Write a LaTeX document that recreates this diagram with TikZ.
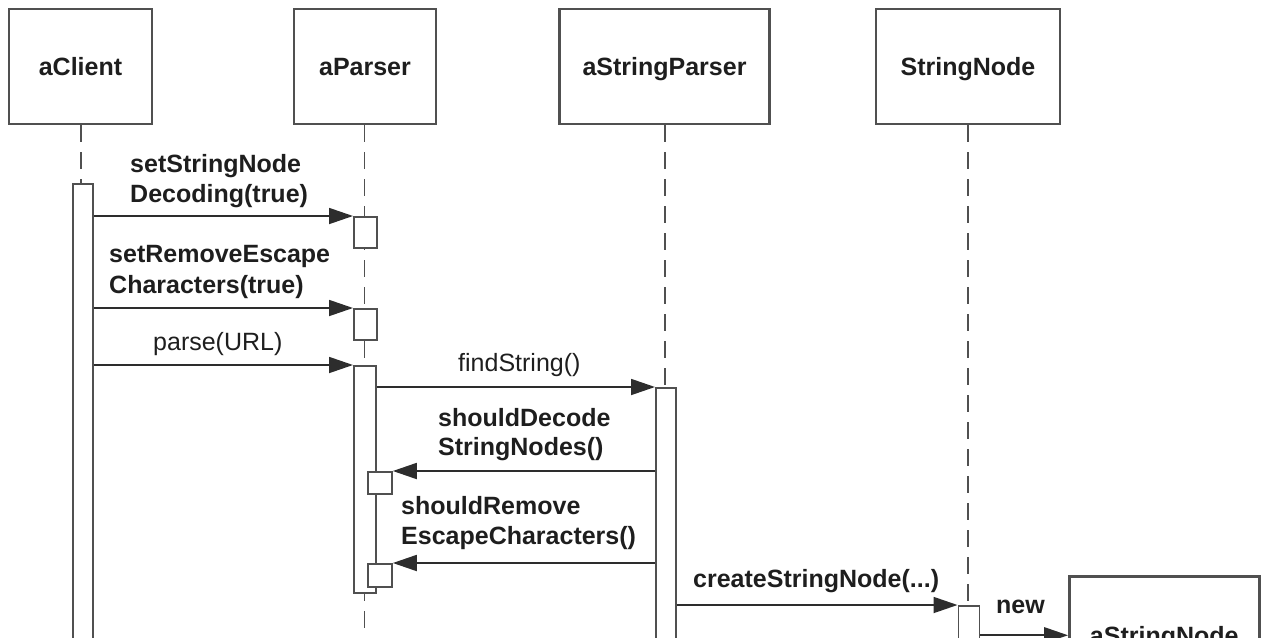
\documentclass[tikz,border=0pt]{standalone}
\usepackage{fontspec}
\setmainfont{Liberation Sans}
\usetikzlibrary{arrows.meta}
\definecolor{ln}{HTML}{505050}
\definecolor{tx}{HTML}{1E1E1E}
\begin{document}
\begin{tikzpicture}[x=1pt,y=-1pt,
  head/.style={draw=ln, line width=2.5pt, fill=white, minimum height=115pt, inner sep=0pt,
    text height=18.5pt, text depth=0pt,
    font=\bfseries\fontsize{25}{30}\selectfont, text=tx},
  life/.style={draw=ln, line width=1.8pt, dash pattern=on 17pt off 10pt},
  bar/.style={draw=ln, line width=1.8pt, fill=white, inner sep=0pt, anchor=north west},
  msg/.style={draw=tx!70!ln, line width=1.8pt, -{Triangle[length=24pt,width=16pt]}},
  lbl/.style={font=\bfseries\fontsize{25}{30}\selectfont, text=tx, anchor=base west, inner sep=0pt},
  nlbl/.style={font=\fontsize{25}{30}\selectfont, text=tx, anchor=base west, inner sep=0pt},
  ]
\useasboundingbox (0,0) rectangle (1263,637);

% heads
\node[head, minimum width=143pt] (client) at (80.5,66.5) {aClient};
\node[head, minimum width=142pt] (parser) at (365,66.5) {aParser};
\node[head, minimum width=210pt] (sparser) at (664.5,66.5) {aStringParser};
\node[head, minimum width=184pt] (snode) at (968,66.5) {StringNode};

% lifeline ends
\coordinate (cl) at (81,183);
\coordinate (pend) at (364.5,645);
\coordinate (send) at (665,645);
\coordinate (nend) at (968,645);

% lifelines
\draw[life] (client.south -| cl) -- (cl);
\draw[life] (parser.south -| pend) -- (pend);
\draw[life] (sparser.south -| send) -- (send);
\draw[life] (snode.south -| nend) -- (nend);

% activation bars
\node[bar, minimum width=20pt, minimum height=462pt] (cbar) at (72,183) {};
\node[bar, minimum width=23pt, minimum height=31pt] (p1) at (353,216) {};
\node[bar, minimum width=23pt, minimum height=31pt] (p2) at (353,308) {};
\node[bar, minimum width=22pt, minimum height=227pt] (p3) at (353,365) {};
\node[bar, minimum width=24pt, minimum height=22pt] (p4) at (367,471) {};
\node[bar, minimum width=24pt, minimum height=23pt] (p5) at (367,563) {};
\node[bar, minimum width=20pt, minimum height=258pt] (s1) at (655,387) {};
\node[bar, minimum width=21pt, minimum height=40pt] (n1) at (957.5,605) {};

% created object
\node[head, minimum width=190pt, minimum height=118pt, anchor=north west] (asnode) at (1068,575) {aStringNode};

% messages
\draw[msg] (cbar.east |- p1.north west) -- (p1.north west);
\draw[msg] (cbar.east |- p2.north west) -- (p2.north west);
\draw[msg] (cbar.east |- p3.north west) -- (p3.north west);
\draw[msg] (p3.east |- s1.north west) -- (s1.north west);
\draw[msg] (s1.west |- p4.north east) -- (p4.north east);
\draw[msg] (s1.west |- p5.north east) -- (p5.north east);
\draw[msg] (s1.east |- n1.north west) -- (n1.north west);
\draw[msg] (n1.east |- asnode.west) -- (asnode.west);

% labels
\node[lbl] (l1a) at (130,172) {setStringNode};
\node[lbl] (l1b) at (130,202) {Decoding(true)};
\node[lbl] (l2a) at (109,262) {setRemoveEscape};
\node[lbl] (l2b) at (109,293) {Characters(true)};
\node[nlbl] (l3) at (153,350) {parse(URL)};
\node[nlbl] (l4) at (458,371) {findString()};
\node[lbl] (l5a) at (438,426) {shouldDecode};
\node[lbl] (l5b) at (438,455) {StringNodes()};
\node[lbl] (l6a) at (401,514) {shouldRemove};
\node[lbl] (l6b) at (401,544) {EscapeCharacters()};
\node[lbl] (l7) at (693,587) {createStringNode(...)};
\node[lbl] (l8) at (996,613) {new};
\end{tikzpicture}
\end{document}
